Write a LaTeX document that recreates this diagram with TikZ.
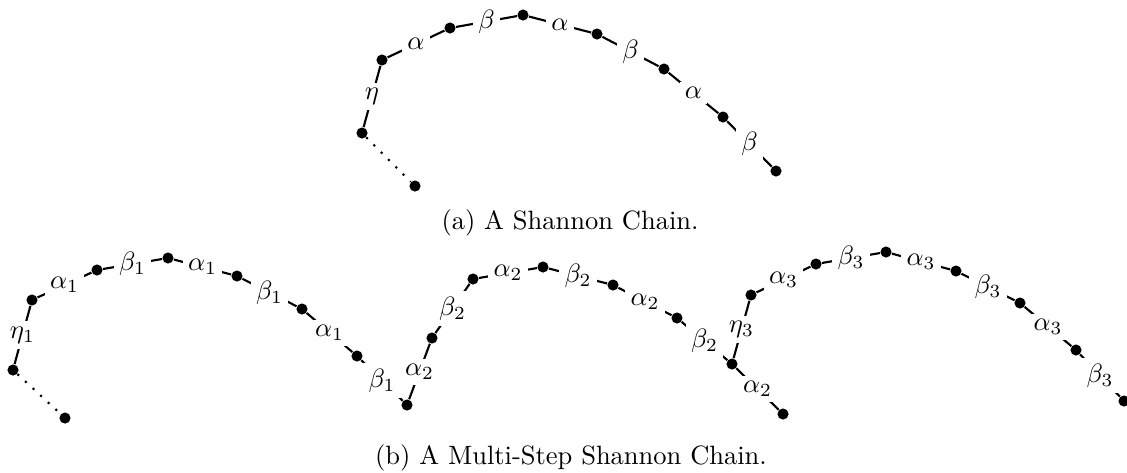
\documentclass[tikz,border=0pt]{standalone}
\begin{document}
\begin{tikzpicture}[x=0.3774pt,y=-0.3774pt,
  dot/.style={circle,fill=black,draw=none,inner sep=0pt,minimum size=4.2pt},
  lab/.style={fill=white,inner sep=2pt},
  seg/.style={line width=0.8pt},
  dotseg/.style={line width=0.8pt,dash pattern=on 0.8pt off 3.1pt},
  captext/.style={anchor=base,inner sep=0pt}]
\useasboundingbox (0,0) rectangle (1127,472);
% ---- (a) Shannon chain
\node[dot] (a0) at (415,186) {};
\node[dot] (a1) at (362,133) {};
\node[dot] (a2) at (382,60) {};
\node[dot] (a3) at (450,28) {};
\node[dot] (a4) at (523,15) {};
\node[dot] (a5) at (597,34) {};
\node[dot] (a6) at (664,69) {};
\node[dot] (a7) at (723,117) {};
\node[dot] (a8) at (776,171) {};
\draw[dotseg] (a1) -- (a0);
\draw[seg] (a1) -- node[lab]{$\eta$} (a2)
  -- node[lab]{$\alpha$} (a3)
  -- node[lab]{$\beta$} (a4)
  -- node[lab]{$\alpha$} (a5)
  -- node[lab]{$\beta$} (a6)
  -- node[lab]{$\alpha$} (a7)
  -- node[lab]{$\beta$} (a8);
\node[captext] (capa) at (570,229) {(a) A Shannon Chain.};
% ---- (b) Multi-step chain, step 1
\node[dot] (b0) at (65,418) {};
\node[dot] (b1) at (13,370) {};
\node[dot] (b2) at (32,300) {};
\node[dot] (b3) at (97,270) {};
\node[dot] (b4) at (168,258) {};
\node[dot] (b5) at (237,276) {};
\node[dot] (b6) at (302,309) {};
\node[dot] (b7) at (357,356) {};
\node[dot] (b8) at (407,405) {};
\draw[dotseg] (b1) -- (b0);
\draw[seg] (b1) -- node[lab]{$\eta_1$} (b2)
  -- node[lab]{$\alpha_1$} (b3)
  -- node[lab]{$\beta_1$} (b4)
  -- node[lab]{$\alpha_1$} (b5)
  -- node[lab]{$\beta_1$} (b6)
  -- node[lab]{$\alpha_1$} (b7)
  -- node[lab]{$\beta_1$} (b8);
% step 2
\node[dot] (c2) at (432,338) {};
\node[dot] (c3) at (473,279) {};
\node[dot] (c4) at (543,267) {};
\node[dot] (c5) at (613,285) {};
\node[dot] (c6) at (677,318) {};
\node[dot] (c7) at (732,364) {};
\node[dot] (c8) at (783,414) {};
\draw[seg] (b8) -- node[lab]{$\alpha_2$} (c2)
  -- node[lab]{$\beta_2$} (c3)
  -- node[lab]{$\alpha_2$} (c4)
  -- node[lab]{$\beta_2$} (c5)
  -- node[lab]{$\alpha_2$} (c6)
  -- node[lab]{$\beta_2$} (c7)
  -- node[lab]{$\alpha_2$} (c8);
% step 3
\node[dot] (d2) at (751,295) {};
\node[dot] (d3) at (816,264) {};
\node[dot] (d4) at (886,252) {};
\node[dot] (d5) at (956,271) {};
\node[dot] (d6) at (1020,303) {};
\node[dot] (d7) at (1076,350) {};
\node[dot] (d8) at (1124,401) {};
\draw[seg] (c7) -- node[lab]{$\eta_3$} (d2)
  -- node[lab]{$\alpha_3$} (d3)
  -- node[lab]{$\beta_3$} (d4)
  -- node[lab]{$\alpha_3$} (d5)
  -- node[lab]{$\beta_3$} (d6)
  -- node[lab]{$\alpha_3$} (d7)
  -- node[lab]{$\beta_3$} (d8);
\node[captext] (capb) at (571,464) {(b) A Multi-Step Shannon Chain.};
\end{tikzpicture}
\end{document}
